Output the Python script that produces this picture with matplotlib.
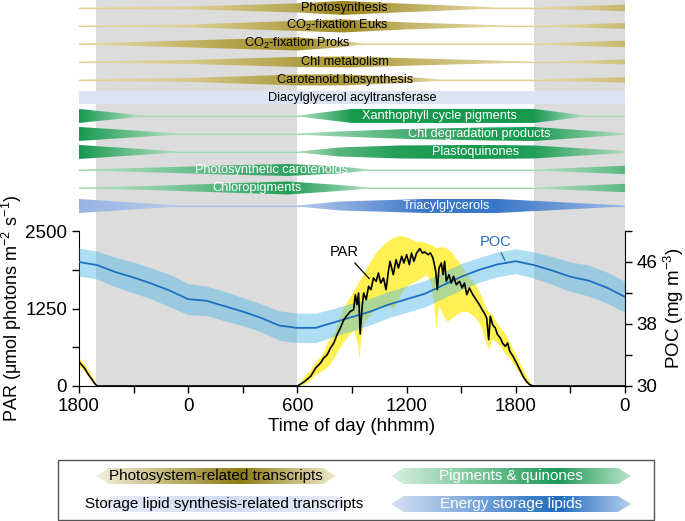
"""Diel bands of transcripts / pigments above PAR and POC time series."""
import matplotlib
matplotlib.use('Agg')
import matplotlib.pyplot as plt
import numpy as np
from matplotlib.colors import to_rgb
from matplotlib.patches import Polygon, Rectangle

plt.rcParams['font.family'] = ['Liberation Sans', 'DejaVu Sans']
plt.rcParams['mathtext.default'] = 'regular'

# time axis (hours, starting 18:00 of day 0)
night_spans = [(18.93, 30.0), (43.0, 48.0)]
hour_ticks = [18, 24, 30, 36, 42, 48]
hour_labels = ['1800', '0', '600', '1200', '1800', '0']

# POC (mg m-3), hourly mean and spread
poc_hours = [18, 19, 20, 21, 22, 23, 24, 25, 26, 27, 28, 29, 30, 31, 32, 33,
             34, 35, 36, 37, 38, 39, 40, 41, 42, 43, 44, 45, 46, 47, 48]
poc_mean = [46.0, 45.6, 44.7, 44.0, 43.2, 42.3, 41.2, 41.0, 40.3, 39.6, 38.8,
            37.8, 37.5, 37.5, 38.2, 38.9, 39.6, 40.5, 41.2, 41.9, 43.0, 44.1,
            45.0, 45.7, 46.1, 45.6, 44.9, 44.1, 43.6, 42.7, 41.5]
poc_sd = [1.8, 1.8, 1.9, 2.0, 2.0, 2.1, 2.0, 1.9, 1.9, 1.8, 1.8, 1.9, 1.9, 1.9,
          1.8, 1.8, 1.7, 1.7, 1.7, 1.7, 1.7, 1.7, 1.6, 1.6, 1.6, 1.7, 1.8, 1.9,
          2.0, 2.0, 2.0]

# PAR (umol photons m-2 s-1)
par_hours = [18.0, 18.15, 18.3, 18.5, 18.7, 18.85, 19.0, 30.0,
             30.36, 30.73, 31.0, 31.27, 31.45, 31.64, 31.82, 32.0, 32.18, 32.36,
             32.55, 32.73, 32.91, 33.09, 33.18, 33.27, 33.36, 33.45, 33.55, 33.64,
             33.78, 33.91, 34.04, 34.18, 34.33, 34.45, 34.58, 34.73, 34.87, 35.0,
             35.09, 35.27, 35.42, 35.55, 35.73, 35.85, 36.0, 36.15, 36.27, 36.4,
             36.55, 36.73, 36.87, 37.0, 37.18, 37.31, 37.45, 37.6, 37.69, 37.78,
             37.91, 38.0, 38.09, 38.18, 38.33, 38.45, 38.58, 38.73, 38.91, 39.05,
             39.18, 39.31, 39.45, 39.64, 39.82, 40.0, 40.15, 40.27, 40.4, 40.51,
             40.6, 40.73, 40.87, 41.0, 41.15, 41.27, 41.42, 41.55, 41.67, 41.85,
             42.04, 42.22, 42.4, 42.58, 42.76, 42.95, 48.0]
par_values = [390, 340, 290, 190, 110, 45, 0, 0,
              65, 156, 290, 371, 452, 505, 613, 693, 828, 935,
              1070, 1140, 1204, 1231, 1473, 1312, 1500, 839, 1258, 1500,
              1392, 1607, 1554, 1742, 1688, 1822, 1661, 1742, 1554, 1849,
              2010, 1796, 2037, 1903, 2091, 1984, 2118, 1957, 2145, 2010,
              2145, 2215, 2145, 2161, 2118, 2145, 2064, 1849, 1554, 1903,
              1984, 1796, 2010, 1688, 1796, 1661, 1769, 1634, 1688, 1581,
              1661, 1473, 1581, 1473, 1392, 1312, 1231, 1177, 1097, 747,
              1124, 989, 935, 828, 774, 693, 640, 693, 559, 478,
              371, 263, 156, 75, 22, 0, 0]
# PAR spread (yellow envelope)
par_env_hours = [18.0, 18.3, 18.6, 18.85, 19.0, 30.0, 30.36, 30.7, 31.0, 31.3,
                 31.64, 32.0, 32.2, 32.5, 32.8, 33.1, 33.3, 33.38, 33.46, 33.6,
                 34.0, 34.3, 34.6, 35.0, 35.3, 35.6, 35.9, 36.2, 36.5, 36.8,
                 37.1, 37.35, 37.5, 37.62, 37.75, 38.0, 38.2, 38.5, 38.7, 39.0,
                 39.3, 39.6, 39.8, 40.1, 40.36, 40.5, 40.7, 40.9, 41.2, 41.45,
                 41.7, 42.0, 42.3, 42.55, 42.8, 43.0, 48.0]
par_low = [320, 240, 110, 20, 0, 0, 22, 100, 183, 240,
           300, 450, 560, 700, 820, 900, 700, 430, 700, 1000,
           1150, 1250, 1258, 1300, 1250, 1450, 1580, 1650, 1688, 1750,
           1796, 1650, 1300, 930, 1300, 1150, 1043, 1100, 1150, 1200,
           1204, 1150, 1097, 950, 700, 600, 760, 720, 620, 505,
           430, 290, 160, 48, 10, 0, 0]
par_high = [460, 350, 230, 90, 0, 0, 160, 260, 400, 480,
            700, 850, 1000, 1250, 1400, 1550, 1650, 1700, 1720, 1800,
            2010, 2150, 2250, 2350, 2400, 2430, 2414, 2380, 2333, 2340,
            2306, 2280, 2260, 2225, 2240, 2250, 2225, 2150, 2064, 1950,
            1796, 1700, 1634, 1450, 1258, 1200, 1150, 1043, 930, 828,
            680, 505, 330, 183, 60, 0, 0]

# bands: relative amplitude (1 = widest) at control hours
band_names = ['Photosynthesis', 'CO$_2$-fixation Euks', 'CO$_2$-fixation Proks',
              'Chl metabolism', 'Carotenoid biosynthesis',
              'Diacylglycerol acyltransferase', 'Xanthophyll cycle pigments',
              'Chl degradation products', 'Plastoquinones',
              'Photosynthetic carotenoids', 'Chloropigments', 'Triacylglycerols']
band_kind = ['gold'] * 5 + ['lipid'] + ['green'] * 5 + ['blue']
band_label_hours = [32.6, 32.2, 30.0, 32.6, 32.6, 33.0, 37.8, 40.0, 39.8, 28.6, 27.8, 38.2]
band_hours = [
    [18, 24, 30, 32.5, 36, 41, 43, 48],
    [18, 24, 30, 32.5, 36, 41.5, 43.5, 48],
    [18, 21.5, 26, 30, 32.3, 33.7, 43, 48],
    [18, 24, 30, 33, 35.6, 39, 42.8, 44, 48],
    [18, 24, 30, 32.5, 36, 38, 43, 48],
    [18, 48],
    [18, 21.5, 30, 33, 43, 45.8, 48],
    [18, 23.5, 30, 32.3, 36, 40.5, 43, 48],
    [18, 23.5, 30, 32.3, 35.6, 40, 43, 48],
    [18, 21.5, 26, 29.5, 32.3, 34, 43, 48],
    [18, 22, 26, 29.5, 32.3, 34, 43, 48],
    [18, 23.5, 30, 32.3, 37, 41, 48],
]
band_levels = [
    [0.07, 0.2, 0.65, 1.0, 0.6, 0.07, 0.07, 0.47],
    [0.07, 0.2, 0.72, 0.93, 0.5, 0.07, 0.07, 0.43],
    [0.07, 0.3, 0.65, 0.93, 0.5, 0.07, 0.07, 0.47],
    [0.07, 0.28, 0.72, 0.78, 0.57, 0.33, 0.07, 0.07, 0.36],
    [0.07, 0.28, 0.78, 0.78, 0.43, 0.07, 0.07, 0.39],
    [0.93, 0.93],
    [1.0, 0.07, 0.07, 1.0, 1.0, 0.07, 0.07],
    [1.0, 0.07, 0.07, 0.36, 0.71, 0.93, 1.0, 0.11],
    [1.0, 0.07, 0.07, 0.64, 0.93, 1.0, 0.93, 0.14],
    [0.07, 0.3, 0.65, 0.86, 0.5, 0.07, 0.07, 0.6],
    [0.07, 0.3, 0.65, 0.93, 0.43, 0.07, 0.07, 0.6],
    [1.0, 0.07, 0.07, 0.64, 1.0, 1.0, 0.07],
]
# colour intensity for the triacylglycerol band (lighter on the left)
tag_tone_hours = [18, 23.5, 30, 37, 41, 48]
tag_tones = [0.35, 0.1, 0.1, 1.0, 1.0, 0.3]

kind_colors = {
    'gold': ('#ece5b8', '#9a8417', 'black'),
    'green': ('#c4e7d1', '#16994f', 'white'),
    'blue': ('#c8d4f1', '#3a78c8', 'white'),
    'lipid': ('#dde3f3', '#dde3f3', 'black'),
}

legend_items = ['Photosystem-related transcripts', 'Pigments & quinones',
                'Storage lipid synthesis-related transcripts', 'Energy storage lipids']

ROW_HALF = 7 / 18.0


def draw_band(ax, row, hours, levels, light, dark, tone_hours=None, tones=None):
    x = np.linspace(18, 48, 900)
    half = np.interp(x, hours, levels) * ROW_HALF
    if tones is None:
        t = np.interp(x, hours, levels)
    else:
        t = np.interp(x, tone_hours, tones)
    lo, hi = np.array(to_rgb(light)), np.array(to_rgb(dark))
    cols = lo + (hi - lo) * np.clip(t, 0, 1)[:, None]
    ax.plot(x, np.full_like(x, row), color=lo + (hi - lo) * 0.3, lw=0.8, zorder=1.5)
    verts = np.vstack([np.column_stack([x, row - half]),
                       np.column_stack([x[::-1], (row + half)[::-1]])])
    poly = Polygon(verts, closed=True, fc='none', ec='none')
    ax.add_patch(poly)
    im = ax.imshow(cols[None], extent=(18, 48, row + 0.5, row - 0.5), aspect='auto',
                   interpolation='bilinear', zorder=2)
    im.set_clip_path(poly)


def legend_arrow(ax, x0, x1, yc, stops, text, tcolor):
    h, tip = 8, 13
    verts = [(x0, yc), (x0 + tip, yc - h), (x1 - tip, yc - h), (x1, yc),
             (x1 - tip, yc + h), (x0 + tip, yc + h)]
    poly = Polygon(verts, closed=True, fc='none', ec='none')
    ax.add_patch(poly)
    pos = np.linspace(0, 1, 300)
    sp = [s[0] for s in stops]
    rgb = np.array([to_rgb(s[1]) for s in stops])
    cols = np.column_stack([np.interp(pos, sp, rgb[:, k]) for k in range(3)])
    im = ax.imshow(cols[None], extent=(x0, x1, yc + h, yc - h), aspect='auto',
                   interpolation='bilinear', zorder=2)
    im.set_clip_path(poly)
    ax.text((x0 + x1) / 2, yc, text, color=tcolor, fontsize=11, ha='center',
            va='center', zorder=3)


fig = plt.figure(figsize=(6.85, 5.21), dpi=100)

# ---------------- top band panel ----------------
ax_top = fig.add_axes([79 / 685, 290 / 521, 546 / 685, 231 / 521])
for s, e in night_spans:
    ax_top.axvspan(s, e, color='#dcdcdc', lw=0, zorder=0)
for i, name in enumerate(band_names):
    light, dark, tcol = kind_colors[band_kind[i]]
    if band_kind[i] == 'lipid':
        ax_top.add_patch(Rectangle((18, i - 0.36), 30, 0.72, color=light, lw=0, zorder=2))
    elif band_kind[i] == 'blue':
        draw_band(ax_top, i, band_hours[i], band_levels[i], light, dark,
                  tag_tone_hours, tag_tones)
    else:
        draw_band(ax_top, i, band_hours[i], band_levels[i], light, dark)
    ax_top.text(band_label_hours[i], i, name, color=tcol, fontsize=9.2,
                ha='center', va='center', zorder=4)
ax_top.set_xlim(18, 48)
ax_top.set_ylim(12.39, -0.44)
ax_top.axis('off')

# ---------------- PAR / POC panel ----------------
ax = fig.add_axes([79 / 685, 135 / 521, 546 / 685, 155 / 521])
for s, e in night_spans:
    ax.axvspan(s, e, color='#dcdcdc', lw=0, zorder=0)
ax.fill_between(par_env_hours, par_low, par_high, color='#fff154', lw=0, zorder=1)
ax.set_xlim(18, 48)
ax.set_ylim(0, 2500)
ax.set_yticks([0, 625, 1250, 1875, 2500])
ax.set_yticklabels(['0', '', '1250', '', '2500'])
ax.set_xticks(hour_ticks)
ax.set_xticklabels(hour_labels)
ax.set_xticks([21, 27, 33, 39, 45], minor=True)
ax.tick_params(which='both', direction='out', length=5, width=1, labelsize=13.5)
ax.spines['top'].set_visible(False)
ax.spines['right'].set_visible(False)
ax.set_xlabel('Time of day (hhmm)', fontsize=13.5, labelpad=2)
ax.set_ylabel('PAR (μmol photons m$^{-2}$ s$^{-1}$)', fontsize=13, labelpad=1)

axp = ax.twinx()
lo = np.array(poc_mean) - np.array(poc_sd)
hi = np.array(poc_mean) + np.array(poc_sd)
axp.fill_between(poc_hours, lo, hi, color='#4cb6e6', alpha=0.45, lw=0, zorder=1)
axp.plot(poc_hours, poc_mean, color='#1f6fbf', lw=1.3, zorder=2)
axp.set_ylim(30, 50)
axp.set_yticks([30, 34, 38, 42, 46, 50])
axp.set_yticklabels(['30', '', '38', '', '46', ''])
axp.tick_params(direction='out', length=5, width=1, labelsize=13.5)
for side in ['top', 'left', 'bottom']:
    axp.spines[side].set_visible(False)
axp.set_ylabel('POC (mg m$^{-3}$)', fontsize=13.5, labelpad=3)
axp.annotate('POC', xy=(41.4, 46.2), xytext=(40.9, 48.6), color='#1f6fbf',
             fontsize=10.5, ha='center', va='center',
             arrowprops=dict(arrowstyle='-', color='#1f6fbf', lw=0.9, shrinkA=1, shrinkB=0))

axl = ax.twinx()
axl.plot(par_hours, par_values, color='black', lw=1.2, zorder=3)
axl.set_ylim(0, 2500)
axl.annotate('PAR', xy=(33.95, 1731), xytext=(32.6, 2161), color='black',
             fontsize=10.5, ha='center', va='center',
             arrowprops=dict(arrowstyle='-', color='black', lw=0.9, shrinkA=1, shrinkB=0))
axl.axis('off')
axl.set_xlim(18, 48)

# ---------------- legend box ----------------
axg = fig.add_axes([0, 0, 1, 1])
axg.set_xlim(0, 685)
axg.set_ylim(521, 0)
axg.axis('off')
axg.add_patch(Rectangle((58, 460), 596, 60, fc='none', ec='#555555', lw=1))
legend_arrow(axg, 96, 336, 476, [(0, '#f4f0de'), (0.6, '#8e7b12'), (1, '#efe9ca')],
             legend_items[0], 'black')
legend_arrow(axg, 391, 631, 476, [(0, '#d9f0e2'), (0.7, '#1c9a55'), (1, '#bde3cb')],
             legend_items[1], 'white')
legend_arrow(axg, 100, 349, 504, [(0, '#e8ecf7'), (0.5, '#d3dcf2'), (1, '#e8ecf7')],
             legend_items[2], 'black')
legend_arrow(axg, 391, 631, 504, [(0, '#d5e0f4'), (0.7, '#1f6cc0'), (1, '#b7cdee')],
             legend_items[3], 'white')

fig.savefig('out.png', dpi=100)
